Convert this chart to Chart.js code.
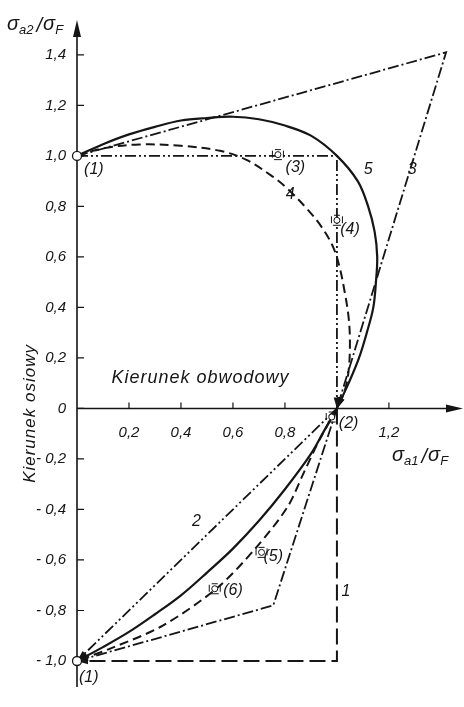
<!DOCTYPE html>
<html>
<head>
<meta charset="utf-8">
<script src="https://cdn.jsdelivr.net/npm/chart.js@4.4.1/dist/chart.umd.min.js"></script>
<style>
  html, body { margin: 0; padding: 0; background: #fff; }
  #wrap { width: 464px; height: 707px; position: relative; }
</style>
</head>
<body>
<div id="wrap"><canvas id="c"></canvas></div>
<script>
const INK = '#151515';
const FONT = "'Liberation Sans Narrow', 'Liberation Sans', Arial, sans-serif";

// Tick positions and printed labels (decimal comma)
const xTickValues = [0.2, 0.4, 0.6, 0.8, 1.0, 1.2];
const xTickLabels = ['0,2', '0,4', '0,6', '0,8', '', '1,2'];
const yTickValues = [1.4, 1.2, 1.0, 0.8, 0.6, 0.4, 0.2, 0, -0.2, -0.4, -0.6, -0.8, -1.0];
const yTickLabels = ['1,4', '1,2', '1,0', '0,8', '0,6', '0,4', '0,2', '0',
                     '- 0,2', '- 0,4', '- 0,6', '- 0,8', '- 1,0'];

// Curve 5 (solid), upper path (1) -> (2)
const c5UpperX = [0, 0.1, 0.2, 0.3, 0.4, 0.5, 0.6, 0.7, 0.8, 0.9, 1.0, 1.08, 1.12, 1.145, 1.155, 1.15, 1.14, 1.115, 1.085, 1.045, 1.0];
const c5UpperY = [1.0, 1.046, 1.085, 1.115, 1.14, 1.15, 1.155, 1.145, 1.12, 1.08, 1.0, 0.9, 0.8, 0.7, 0.6, 0.5, 0.4, 0.3, 0.2, 0.1, 0];
// Curve 4 (dashed), upper path
const c4UpperX = [0, 0.1, 0.24, 0.4, 0.55, 0.65, 0.75, 0.81, 0.885, 0.94, 0.985, 1.01, 1.03, 1.045, 1.05, 1.045, 1.03, 1.0];
const c4UpperY = [1.0, 1.03, 1.045, 1.04, 1.02, 0.985, 0.92, 0.87, 0.79, 0.72, 0.64, 0.56, 0.46, 0.36, 0.26, 0.15, 0.07, 0];
// Curve 3 (dash-dot), upper path
const c3UpperX = [0, 1.42, 1.0];
const c3UpperY = [1.0, 1.41, 0];
// Dash-dot-dot, upper path
const c2UpperX = [0, 1.0, 1.0];
const c2UpperY = [1.0, 1.0, 0];

// Lower paths (2) -> (1)
const c1LowerX = [1.0, 1.0, 0];
const c1LowerY = [0, -1.0, -1.0];
const c2LowerX = [1.0, 0];
const c2LowerY = [0, -1.0];
const c5LowerX = [1.0, 0.95, 0.9, 0.8, 0.7, 0.6, 0.5, 0.4, 0.3, 0.2, 0.1, 0];
const c5LowerY = [0, -0.09, -0.18, -0.32, -0.445, -0.555, -0.65, -0.74, -0.815, -0.885, -0.945, -1.0];
const c4LowerX = [1.0, 0.93, 0.87, 0.81, 0.69, 0.54, 0.33, 0.13, 0];
const c4LowerY = [0, -0.13, -0.26, -0.39, -0.55, -0.71, -0.86, -0.95, -1.0];
const c3LowerX = [1.0, 0.755, 0];
const c3LowerY = [0, -0.78, -1.0];

// Stress-state markers
const markerX = [0.98, 0.773, 1.0, 0.71, 0.53];
const markerY = [-0.034, 1.005, 0.745, -0.57, -0.714];
// End-point circles (1)
const startX = [0, 0];
const startY = [1.0, -1.0];

const pts = (xs, ys) => xs.map((v, i) => ({ x: v, y: ys[i] }));

const DASH = [9, 5];
const LONG_DASH = [16, 6];
const DASH_DOT = [11, 3, 2, 3];
const DASH_DOT_DOT = [11, 3, 2, 3, 2, 3];

function curve(label, data, dash, width, tension) {
  return {
    label, data,
    showLine: true,
    borderColor: INK,
    backgroundColor: INK,
    borderWidth: width,
    borderDash: dash,
    pointRadius: 0,
    tension: tension,
    clip: false,
    arrowEnd: true
  };
}

// Text placed in data coordinates
const annotations = [
  { text: '5', x: 1.12, y: 0.947, size: 16 },
  { text: '3', x: 1.29, y: 0.947, size: 16 },
  { text: '4', x: 0.82, y: 0.845, size: 16 },
  { text: '2', x: 0.46, y: -0.447, size: 16 },
  { text: '1', x: 1.035, y: -0.725, size: 16 },
  { text: '(1)', x: 0.065, y: 0.945, size: 16 },
  { text: '(1)', x: 0.045, y: -1.065, size: 16 },
  { text: '(3)', x: 0.84, y: 0.952, size: 16 },
  { text: '(4)', x: 1.05, y: 0.71, size: 16 },
  { text: '(2)', x: 1.045, y: -0.058, size: 16 },
  { text: '(5)', x: 0.755, y: -0.588, size: 16 },
  { text: '(6)', x: 0.6, y: -0.72, size: 16 }
];

function drawRatio(ctx, x, baseline, sub1, sub2) {
  ctx.save();
  ctx.fillStyle = INK;
  ctx.textAlign = 'left';
  ctx.textBaseline = 'alphabetic';
  const big = 'italic 20px ' + FONT, small = 'italic 13px ' + FONT;
  let cx = x;
  ctx.font = big; ctx.fillText('σ', cx, baseline); cx += ctx.measureText('σ').width;
  ctx.font = small; ctx.fillText(sub1, cx, baseline + 4); cx += ctx.measureText(sub1).width + 3;
  ctx.font = big; ctx.fillText('/', cx, baseline + 2); cx += ctx.measureText('/').width + 1;
  ctx.fillText('σ', cx, baseline); cx += ctx.measureText('σ').width;
  ctx.font = small; ctx.fillText(sub2, cx, baseline + 4);
  ctx.restore();
}

const drawing = {
  id: 'drawing',
  beforeDatasetsDraw(chart) {
    const { ctx, chartArea: a, scales: { x, y } } = chart;
    const x0 = x.getPixelForValue(0), y0 = y.getPixelForValue(0);
    ctx.save();
    ctx.strokeStyle = INK; ctx.fillStyle = INK; ctx.lineWidth = 1.6;
    ctx.beginPath();
    ctx.moveTo(x0, a.bottom); ctx.lineTo(x0, a.top + 10);
    ctx.moveTo(x0, y0); ctx.lineTo(a.right - 10, y0);
    ctx.stroke();
    // axis arrows
    ctx.beginPath();
    ctx.moveTo(x0, a.top); ctx.lineTo(x0 - 4, a.top + 17); ctx.lineTo(x0 + 4, a.top + 17); ctx.closePath();
    ctx.moveTo(a.right, y0); ctx.lineTo(a.right - 17, y0 - 4); ctx.lineTo(a.right - 17, y0 + 4); ctx.closePath();
    ctx.fill();
    // tick marks
    ctx.lineWidth = 1.2;
    ctx.beginPath();
    yTickValues.forEach(v => { const py = y.getPixelForValue(v); ctx.moveTo(x0, py); ctx.lineTo(x0 + 7, py); });
    xTickValues.forEach(v => { const px = x.getPixelForValue(v); ctx.moveTo(px, y0); ctx.lineTo(px, y0 - 6); });
    ctx.stroke();
    ctx.restore();
  },
  afterDatasetsDraw(chart) {
    const { ctx, scales: { x, y } } = chart;
    ctx.save();
    ctx.fillStyle = INK; ctx.strokeStyle = INK;
    // arrowheads at path ends
    chart.data.datasets.forEach((ds, i) => {
      if (!ds.arrowEnd) return;
      const d = chart.getDatasetMeta(i).data;
      const p1 = d[d.length - 1], p0 = d[d.length - 2];
      const ang = Math.atan2(p1.y - p0.y, p1.x - p0.x);
      const L = 11, W = 3.2;
      ctx.save();
      ctx.translate(p1.x, p1.y); ctx.rotate(ang);
      ctx.beginPath(); ctx.moveTo(0, 0); ctx.lineTo(-L, -W); ctx.lineTo(-L, W); ctx.closePath(); ctx.fill();
      ctx.restore();
    });
    // stress-state markers
    ctx.lineWidth = 1;
    markerX.forEach((mx, i) => {
      const px = x.getPixelForValue(mx), py = y.getPixelForValue(markerY[i]);
      ctx.fillStyle = '#fff';
      ctx.beginPath(); ctx.arc(px, py, 3, 0, Math.PI * 2); ctx.fill(); ctx.stroke();
      ctx.beginPath();
      ctx.moveTo(px - 4, py + 5); ctx.lineTo(px + 4, py + 5);
      ctx.moveTo(px - 3, py - 5); ctx.lineTo(px + 3, py - 5);
      ctx.moveTo(px - 5.5, py - 4); ctx.lineTo(px - 5.5, py + 3);
      ctx.moveTo(px + 5.5, py - 4); ctx.lineTo(px + 5.5, py + 3);
      ctx.stroke();
    });
    // end-point circles (1)
    ctx.lineWidth = 1.3;
    startX.forEach((sx, i) => {
      const px = x.getPixelForValue(sx), py = y.getPixelForValue(startY[i]);
      ctx.fillStyle = '#fff';
      ctx.beginPath(); ctx.arc(px, py, 4.5, 0, Math.PI * 2); ctx.fill(); ctx.stroke();
    });
    // labels
    ctx.fillStyle = INK;
    ctx.textAlign = 'center'; ctx.textBaseline = 'middle';
    annotations.forEach(t => {
      ctx.font = 'italic ' + t.size + 'px ' + FONT;
      ctx.fillText(t.text, x.getPixelForValue(t.x), y.getPixelForValue(t.y));
    });
    // in-plot direction captions
    ctx.font = 'italic 18px ' + FONT;
    ctx.letterSpacing = '1px';
    ctx.fillText('Kierunek obwodowy', x.getPixelForValue(0.475), y.getPixelForValue(0.12));
    ctx.font = 'italic 17px ' + FONT;
    ctx.letterSpacing = '1px';
    ctx.save();
    ctx.translate(30, y.getPixelForValue(-0.02));
    ctx.rotate(-Math.PI / 2);
    ctx.fillText('Kierunek osiowy', 0, 0);
    ctx.restore();
    ctx.letterSpacing = '0px';
    ctx.restore();
    // axis titles
    drawRatio(ctx, 7, 30, 'a2', 'F');
    drawRatio(ctx, 392, 461, 'a1', 'F');
  }
};

new Chart(document.getElementById('c'), {
  type: 'scatter',
  data: {
    datasets: [
      curve('5', pts(c5UpperX, c5UpperY), [], 2.2, 0.35),
      curve('4', pts(c4UpperX, c4UpperY), DASH, 2, 0.35),
      curve('3', pts(c3UpperX, c3UpperY), DASH_DOT, 1.8, 0),
      curve('2', pts(c2UpperX, c2UpperY), DASH_DOT_DOT, 1.8, 0),
      curve('1', pts(c1LowerX, c1LowerY), LONG_DASH, 2, 0),
      curve('2', pts(c2LowerX, c2LowerY), DASH_DOT_DOT, 1.8, 0),
      curve('5', pts(c5LowerX, c5LowerY), [], 2.2, 0.35),
      curve('4', pts(c4LowerX, c4LowerY), DASH, 2, 0.3),
      curve('3', pts(c3LowerX, c3LowerY), DASH_DOT, 1.8, 0)
    ]
  },
  options: {
    responsive: true,
    maintainAspectRatio: false,
    animation: false,
    devicePixelRatio: 1,
    layout: { padding: { top: 15, right: 1, bottom: 0, left: 0 } },
    plugins: { legend: { display: false }, tooltip: { enabled: false } },
    scales: {
      x: {
        type: 'linear',
        position: { y: 0 },
        min: 0, max: 1.485,
        grid: { display: false, drawTicks: false },
        border: { display: false },
        afterBuildTicks: s => { s.ticks = xTickValues.map(v => ({ value: v })); },
        ticks: {
          autoSkip: false, maxRotation: 0, padding: 15, color: INK,
          font: { family: FONT, size: 15, style: 'italic' },
          callback: (v, i) => xTickLabels[i]
        }
      },
      y: {
        type: 'linear',
        position: 'left',
        min: -1.103, max: 1.538,
        grid: { display: false, drawTicks: false },
        border: { display: false },
        afterFit: s => { s.width = 77; },
        afterBuildTicks: s => { s.ticks = yTickValues.map(v => ({ value: v })); },
        ticks: {
          autoSkip: false, padding: 11, color: INK,
          font: { family: FONT, size: 15, style: 'italic' },
          callback: (v, i) => yTickLabels[i]
        }
      }
    }
  },
  plugins: [drawing]
});
</script>
</body>
</html>
